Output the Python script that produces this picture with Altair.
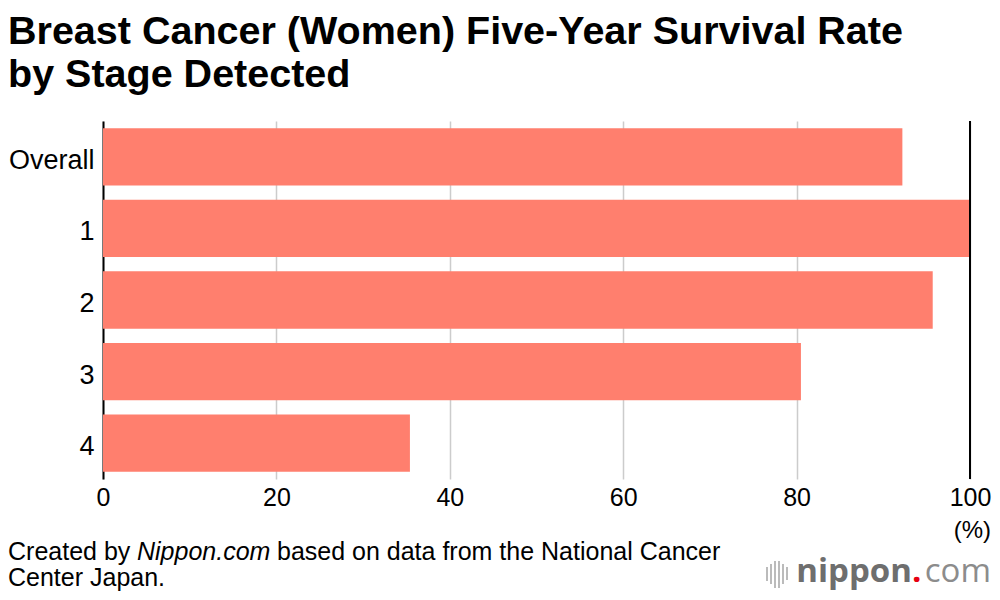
import altair as alt
import pandas as pd

# ---- data ----
stages = ["Overall", "1", "2", "3", "4"]
rates = [92.2, 100.0, 95.7, 80.5, 35.4]
x_ticks = [0, 20, 40, 60, 80, 100]
title_lines = ["Breast Cancer (Women) Five-Year Survival Rate", "by Stage Detected"]
unit_label = ["(%)"]
footer_parts = ["Created by", "Nippon.com", "based on data from the National Cancer", "Center Japan."]

FONT = "Liberation Sans"
BAR = "#FF7F6E"

df = pd.DataFrame({"stage": stages, "rate": rates})

bars = alt.Chart(df).mark_bar(color=BAR).encode(
    x=alt.X(
        "rate:Q",
        scale=alt.Scale(domain=[0, 100], nice=False, zero=True),
        axis=alt.Axis(
            values=x_ticks, grid=True, gridColor="#cccccc", gridWidth=1.5,
            domain=False, ticks=False, labelFontSize=25, labelFont=FONT,
            labelColor="black", labelPadding=6, labelFlush=False, title=None,
        ),
    ),
    y=alt.Y(
        "stage:N", sort=stages,
        scale=alt.Scale(paddingInner=0.2, paddingOuter=0.1),
        axis=alt.Axis(
            domain=True, domainColor="black", domainWidth=2, ticks=False,
            labelFontSize=27, labelFont=FONT, labelColor="black",
            labelPadding=9, labelOffset=4, title=None, grid=False,
        ),
    ),
)

top_rule = alt.Chart(pd.DataFrame({"v": [100]})).mark_rule(color="black", strokeWidth=2).encode(
    x=alt.X("v:Q")
)

unit = alt.Chart(pd.DataFrame({"t": unit_label})).mark_text(
    align="right", baseline="alphabetic", font=FONT, fontSize=24, color="black"
).encode(text="t:N", x=alt.value(888), y=alt.value(417))

def ftext(txt, x, y, style="normal"):
    return alt.Chart(pd.DataFrame({"t": [txt]})).mark_text(
        align="left", baseline="alphabetic", font=FONT, fontSize=25,
        color="black", fontStyle=style
    ).encode(text="t:N", x=alt.value(x), y=alt.value(y))

foot1 = ftext(footer_parts[0], -95, 439)
foot2 = ftext(footer_parts[1], 34, 439, "italic")
foot3 = ftext(footer_parts[2], 174, 439)
foot4 = ftext(footer_parts[3], -95, 465)

def logo_text(txt, x, color, weight, align="left"):
    return alt.Chart(pd.DataFrame({"t": [txt]})).mark_text(
        align=align, baseline="alphabetic", font="Open Sans", fontSize=33,
        color=color, fontWeight=weight
    ).encode(text="t:N", x=alt.value(x), y=alt.value(461))

logo1 = logo_text("nippon", 809, "#6e6e6e", "bold", "right")
logo2 = logo_text(".", 809, "#e60012", "bold")
logo3 = logo_text("com", 888, "#8c8c8c", "normal", "right")

icon_df = pd.DataFrame({
    "x": [664, 668, 672, 676, 680, 684],
    "y1": [446, 443, 440, 440, 443, 446],
    "y2": [460, 463, 467, 467, 463, 459],
})
icon = alt.Chart(icon_df).mark_rule(color="#bbbbbb", strokeWidth=2).encode(
    x=alt.X("x:Q", scale=None), y=alt.Y("y1:Q", scale=None), y2="y2:Q"
)

chart = alt.layer(
    bars, top_rule, unit, foot1, foot2, foot3, foot4, logo1, logo2, logo3, icon
).properties(
    width=867, height=358,
    title=alt.TitleParams(
        text=title_lines, anchor="start", frame="group", dx=-95,
        font=FONT, fontSize=39.5, fontWeight="bold", color="black",
        lineHeight=43, offset=25,
    ),
    autosize=alt.AutoSizeParams(type="none"),
    padding={"left": 95, "top": 113, "right": 22, "bottom": 113},
).configure_view(stroke=None)

chart.save("out.html", embed_options={"renderer": "svg", "actions": False})
